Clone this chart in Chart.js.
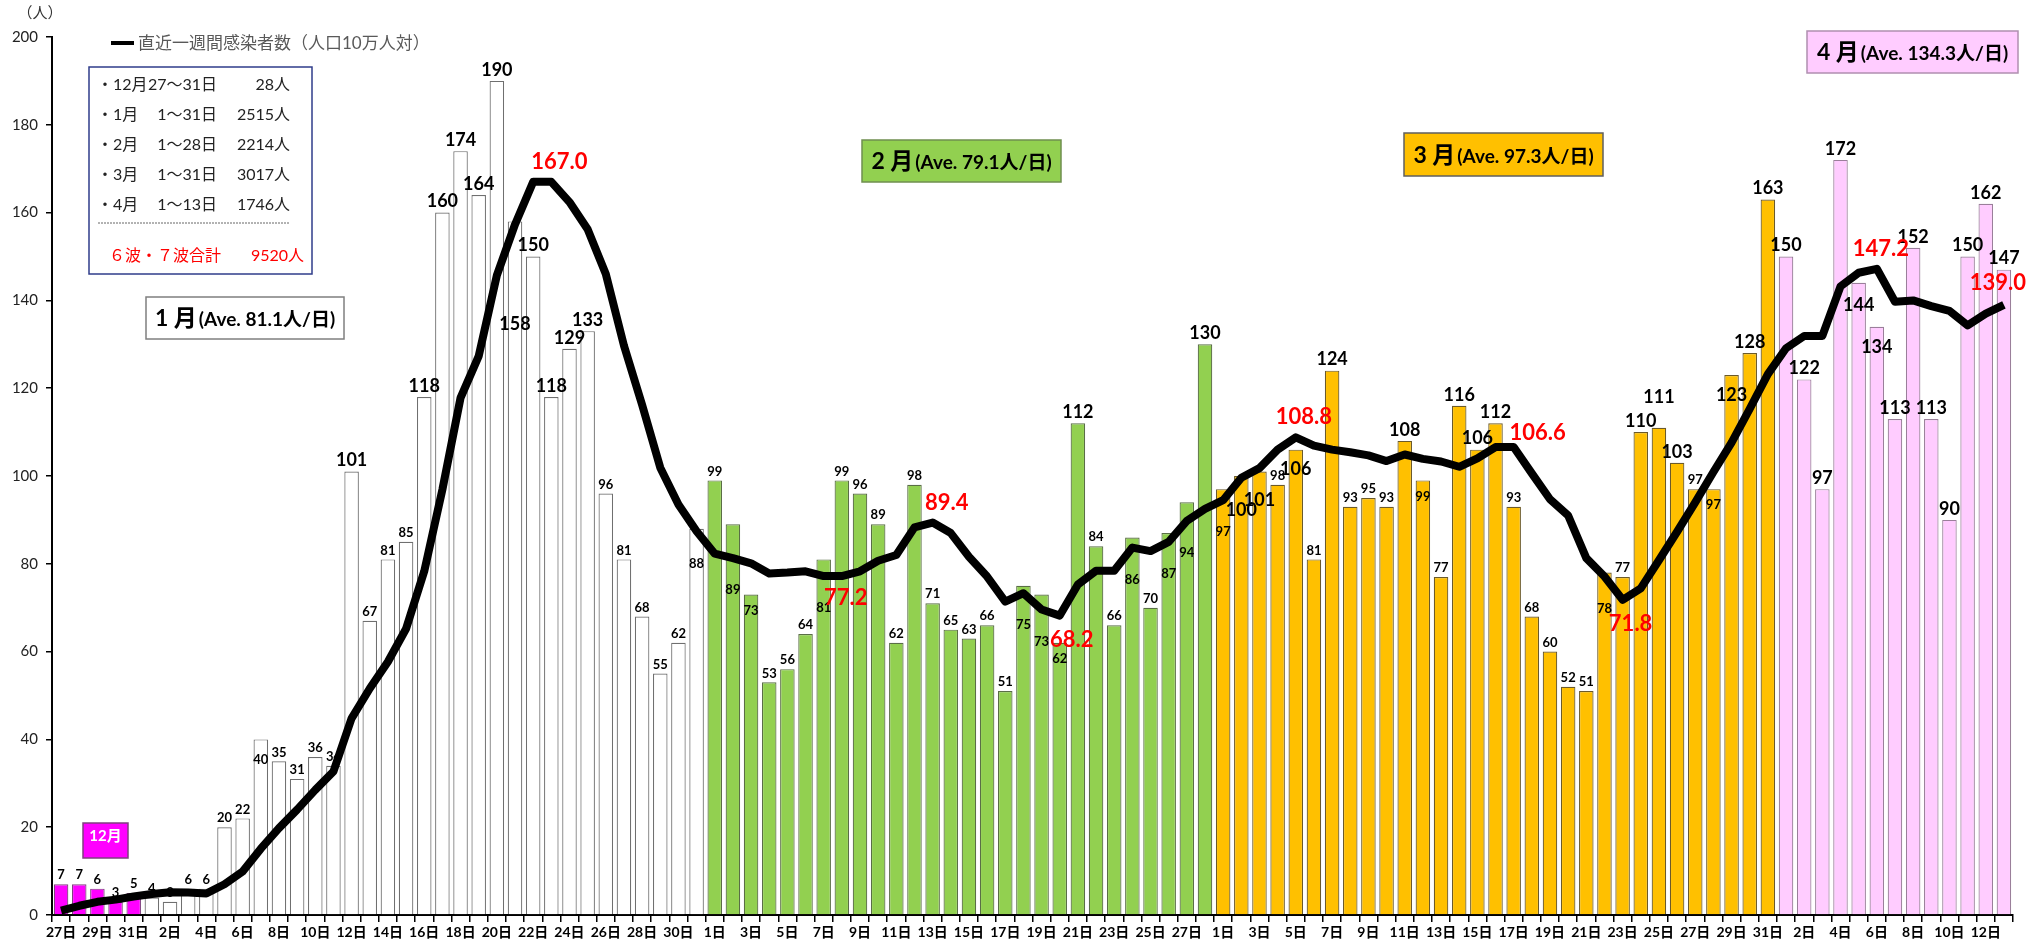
<!DOCTYPE html>
<html lang="ja">
<head>
<meta charset="utf-8">
<title>新規感染者数の推移</title>
<script src="https://cdn.jsdelivr.net/npm/chart.js@4.4.1/dist/chart.umd.min.js"></script>
<style>
  body { margin: 0; background: #fff; }
  #wrap { width: 2040px; height: 951px; }
</style>
</head>
<body>
<div id="wrap"><canvas id="graph" width="2040" height="951"></canvas></div>
<script>
// 日別の新規感染者数（12月27日～4月13日）
const decFirstDay = 27;
const decCases = [7, 7, 6, 3, 5];
const janCases = [4, 3, 6, 6, 20, 22, 40, 35, 31, 36, 34, 101, 67, 81, 85, 118, 160, 174, 164, 190, 158, 150, 118, 129, 133, 96, 81, 68, 55, 62, 88];
const febCases = [99, 89, 73, 53, 56, 64, 81, 99, 96, 89, 62, 98, 71, 65, 63, 66, 51, 75, 73, 62, 112, 84, 66, 86, 70, 87, 94, 130];
const marCases = [97, 100, 101, 98, 106, 81, 124, 93, 95, 93, 108, 99, 77, 116, 106, 112, 93, 68, 60, 52, 51, 78, 77, 110, 111, 103, 97, 97, 123, 128, 163];
const aprCases = [150, 122, 97, 172, 144, 134, 113, 152, 113, 90, 150, 162, 147];

// 直近一週間感染者数（人口10万人対）
const weeklyRate = [
  1.0, 2.1, 3.0, 3.5, 4.2,
  4.8, 5.2, 5.1, 4.9, 7.0, 9.9, 15.1, 19.8, 24.0, 28.5, 32.7, 44.8, 51.6, 57.7, 65.2, 78.3,
  96.9, 117.8, 127.3, 145.7, 157.3, 167.0, 167.0, 162.4, 156.2, 146.0, 129.7, 116.2, 101.9, 93.5, 87.4,
  82.3, 81.3, 80.1, 77.8, 78.0, 78.3, 77.2, 77.2, 78.3, 80.7, 82.0, 88.3, 89.4, 87.0,
  81.6, 77.1, 71.4, 73.3, 69.6, 68.2, 75.3, 78.4, 78.4, 83.7, 82.9, 85.0, 89.8, 92.5,
  94.5, 99.6, 101.8, 106.0, 108.8, 106.9, 106.0, 105.4, 104.7, 103.4, 104.9, 103.9, 103.3, 102.1, 104.0, 106.6,
  106.6, 100.6, 94.7, 91.0, 81.3, 77.1, 71.8, 74.4, 80.8, 87.3, 94.0, 100.9, 107.6, 115.3, 123.2,
  129.1, 131.9, 131.9, 143.2, 146.3, 147.2, 139.7, 140.0, 138.7, 137.6, 134.3, 137.0, 139.0
];

// 注記のテキスト
const periodNames = ['・12月', '・1月', '・2月', '・3月', '・4月'];
const periodRanges = ['27～31日', '1～31日', '1～28日', '1～31日', '1～13日'];
const waveName = '６波・７波合計';
const monthHeads = ['1 月', '2 月', '3 月', '4 月'];
const monthAves = ['(Ave. 81.1人/日)', '(Ave. 79.1人/日)', '(Ave. 97.3人/日)', '(Ave. 134.3人/日)'];
const lineLegend = '直近一週間感染者数（人口10万人対）';

// 赤字で値を出す折れ線の点（日のインデックス）
const rateCallouts = [27, 43, 48, 55, 68, 80, 86, 100, 107];
// 数値ラベルを棒の中に入れる日
const labelsInsideBar = [11, 25, 35, 37, 38, 42, 53, 54, 55, 59, 61, 62, 64, 65, 66, 68, 75, 85, 91, 92, 99, 100];

const FONT = "Lato, 'Noto Sans CJK JP', sans-serif";

// 月ごとの色
const months = [
  { cases: decCases, first: decFirstDay, fill: '#ff00ff', edge: '#7f3f7f' },
  { cases: janCases, first: 1, fill: '#ffffff', edge: '#6f6f6f' },
  { cases: febCases, first: 1, fill: '#92d050', edge: '#5a6e46' },
  { cases: marCases, first: 1, fill: '#ffc000', edge: '#6b5a2a' },
  { cases: aprCases, first: 1, fill: '#ffccff', edge: '#9a7f9a' }
];

const dayLabels = [];
const cases = [];
const barFill = [];
const barEdge = [];
const aprStart = decCases.length + janCases.length + febCases.length + marCases.length;
months.forEach(m => {
  m.cases.forEach((v, k) => {
    dayLabels.push((m.first + k) + '日');
    cases.push(v);
    barFill.push(m.fill);
    barEdge.push(m.edge);
  });
});
const periodTotals = months.map(m => m.cases.reduce((a, b) => a + b, 0));
const waveTotal = periodTotals.reduce((a, b) => a + b, 0);

// 棒の上の数値と折れ線の赤い数値
const valueLabels = {
  id: 'valueLabels',
  afterDatasetsDraw(chart) {
    const ctx = chart.ctx;
    const bars = chart.getDatasetMeta(0).data;
    const pts = chart.getDatasetMeta(1).data;
    // 重なりを避けるための個別の上下ずらし
    const nudgeY = { 25: 68, 88: -20 };
    ctx.save();
    ctx.textAlign = 'center';
    ctx.textBaseline = 'middle';
    ctx.fillStyle = '#000';
    bars.forEach((bar, i) => {
      const v = cases[i];
      const big = v >= 100 || i >= aprStart;
      ctx.font = 'bold ' + (big ? 18 : 13) + 'px ' + FONT;
      let y;
      if (labelsInsideBar.includes(i)) {
        const lineY = pts[i].y;
        y = bar.y + 20;
        if (Math.abs(lineY - bar.y) < 40) y = Math.max(bar.y + 16, lineY + 32);
      } else {
        y = bar.y - (big ? 11 : 9);
      }
      ctx.fillText(String(v), bar.x, y + (nudgeY[i] || 0));
    });

    ctx.fillStyle = '#ff0000';
    ctx.font = 'bold 22px ' + FONT;
    const spots = { 27: [8, -20], 43: [4, 22], 48: [14, -20], 55: [12, 24], 68: [8, -20],
                    80: [24, -14], 86: [8, 24], 100: [4, -20], 107: [-6, -22] };
    rateCallouts.forEach(i => {
      const p = pts[i];
      const off = spots[i] || [0, -20];
      ctx.fillText(weeklyRate[i].toFixed(1), p.x + off[0], p.y + off[1]);
    });
    ctx.restore();
  }
};

function noteBox(ctx, x, y, w, h, fill, edge) {
  ctx.fillStyle = fill;
  ctx.fillRect(x, y, w, h);
  ctx.strokeStyle = edge;
  ctx.lineWidth = 1.5;
  ctx.strokeRect(x, y, w, h);
}

function monthNote(ctx, k, x, y, w, h, fill, edge) {
  noteBox(ctx, x, y, w, h, fill, edge);
  ctx.fillStyle = '#000';
  ctx.textBaseline = 'alphabetic';
  ctx.textAlign = 'left';
  ctx.font = 'bold 23px ' + FONT;
  const headW = ctx.measureText(monthHeads[k]).width;
  ctx.font = 'bold 19px ' + FONT;
  const tailW = ctx.measureText(monthAves[k]).width;
  const sx = x + (w - headW - tailW - 2) / 2;
  const by = y + h / 2 + 8;
  ctx.font = 'bold 23px ' + FONT;
  ctx.fillText(monthHeads[k], sx, by);
  ctx.font = 'bold 19px ' + FONT;
  ctx.fillText(monthAves[k], sx + headW + 2, by);
}

// 凡例・集計表・月の注記
const notes = {
  id: 'notes',
  afterDraw(chart) {
    const ctx = chart.ctx;
    ctx.save();

    ctx.fillStyle = '#333';
    ctx.font = '15px ' + FONT;
    ctx.textAlign = 'center';
    ctx.textBaseline = 'middle';
    ctx.fillText('（人）', 40, 13);

    ctx.strokeStyle = '#000';
    ctx.lineWidth = 4;
    ctx.beginPath();
    ctx.moveTo(111, 43);
    ctx.lineTo(134, 43);
    ctx.stroke();
    ctx.fillStyle = '#595959';
    ctx.font = '17px ' + FONT;
    ctx.textAlign = 'left';
    ctx.fillText(lineLegend, 138, 44);

    noteBox(ctx, 89, 67, 223, 207, '#ffffff', '#2f3d8a');
    ctx.font = '16px ' + FONT;
    ctx.fillStyle = '#222';
    periodNames.forEach((name, k) => {
      const y = 85 + k * 30;
      ctx.textAlign = 'left';
      ctx.fillText(name, 97, y);
      ctx.textAlign = 'right';
      ctx.fillText(periodRanges[k], 217, y);
      ctx.fillText(periodTotals[k] + '人', 290, y);
    });
    ctx.strokeStyle = '#666';
    ctx.lineWidth = 1;
    ctx.setLineDash([2, 1]);
    ctx.beginPath();
    ctx.moveTo(98, 223);
    ctx.lineTo(290, 223);
    ctx.stroke();
    ctx.setLineDash([]);
    ctx.fillStyle = '#ff0000';
    ctx.textAlign = 'left';
    ctx.fillText(waveName, 109, 256);
    ctx.textAlign = 'right';
    ctx.fillText(waveTotal + '人', 304, 256);

    monthNote(ctx, 0, 146, 297, 198, 42, '#ffffff', '#7f7f7f');
    monthNote(ctx, 1, 862, 140, 199, 42, '#92d050', '#6f8f4f');
    monthNote(ctx, 2, 1404, 133, 199, 43, '#ffc000', '#5f5f5f');
    monthNote(ctx, 3, 1807, 31, 211, 42, '#ffccff', '#b08fb0');

    noteBox(ctx, 83, 823, 45, 35, '#ff00ff', '#7f3f7f');
    ctx.fillStyle = '#fff';
    ctx.font = 'bold 15px ' + FONT;
    ctx.textAlign = 'center';
    ctx.fillText('12月', 105.5, 841);

    ctx.restore();
  }
};

const config = {
  type: 'bar',
  data: {
    labels: dayLabels,
    datasets: [
      {
        type: 'bar',
        label: '新規感染者数',
        data: cases,
        backgroundColor: barFill,
        borderColor: barEdge,
        borderWidth: 1.2,
        barPercentage: 0.8,
        categoryPercentage: 1.0,
        order: 2
      },
      {
        type: 'line',
        label: lineLegend,
        data: weeklyRate,
        borderColor: '#000',
        borderWidth: 8,
        pointRadius: 0,
        tension: 0,
        borderJoinStyle: 'round',
        order: 1
      }
    ]
  },
  options: {
    responsive: false,
    animation: false,
    layout: { padding: { top: 37, right: 27, left: 0, bottom: 0 } },
    plugins: { legend: { display: false }, tooltip: { enabled: false } },
    scales: {
      x: {
        grid: { offset: true, drawOnChartArea: false, color: '#000', tickLength: 7, lineWidth: 1.5 },
        border: { color: '#000', width: 2 },
        ticks: {
          autoSkip: false, maxRotation: 0, minRotation: 0, padding: 2, color: '#000',
          font: { family: FONT, size: 14, weight: 'bold' },
          callback: (v, i) => (i % 2 === 0 ? dayLabels[i] : '')
        },
        afterFit: s => { s.height = 36; }
      },
      y: {
        min: 0,
        max: 200,
        ticks: { stepSize: 20, color: '#222', padding: 8, font: { family: FONT, size: 15 } },
        grid: { drawOnChartArea: false, color: '#000', tickLength: 6, lineWidth: 1.5 },
        border: { color: '#000', width: 2 },
        afterFit: s => { s.width = 52; }
      }
    }
  },
  plugins: [valueLabels, notes]
};

window.myChart = new Chart(document.getElementById('graph'), config);
</script>
</body>
</html>
